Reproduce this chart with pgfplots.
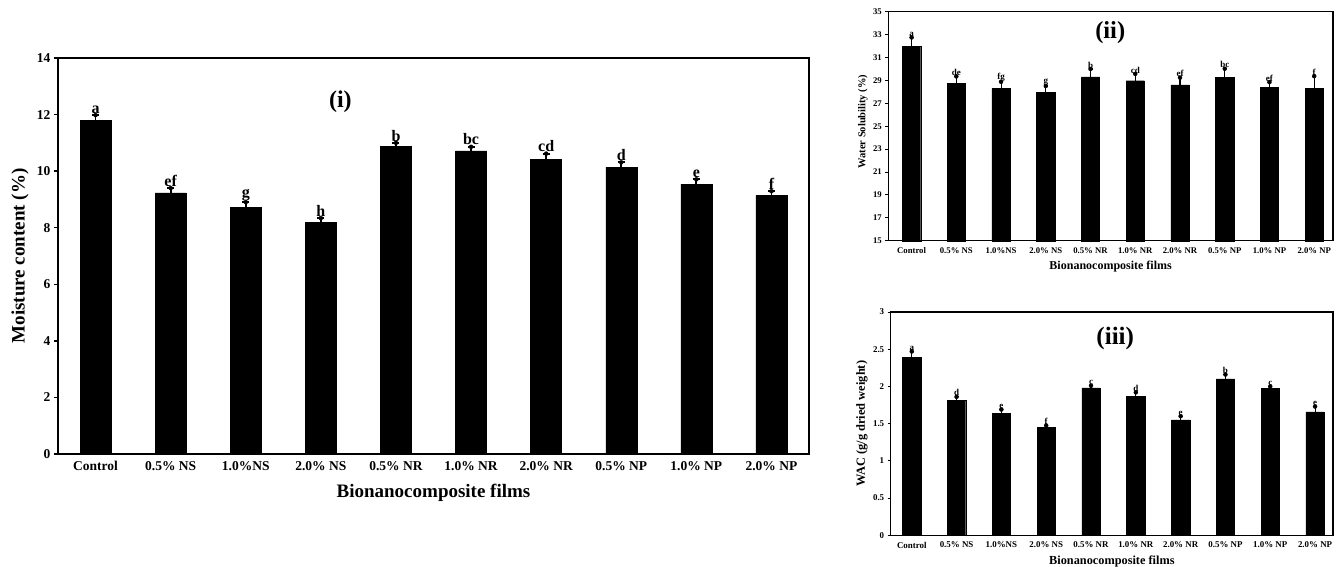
\documentclass[border=0pt]{standalone}
\usepackage{fontspec}
\setmainfont{Liberation Serif}
\usepackage{pgfplots}
\usepackage{pgfplotstable}
\pgfplotsset{compat=1.18}

\pgfplotstableread{
x y e lab
0 11.80 0.18 a
1 9.23 0.17 ef
2 8.72 0.18 g
3 8.20 0.14 h
4 10.88 0.12 b
5 10.72 0.14 bc
6 10.42 0.20 cd
7 10.14 0.17 d
8 9.54 0.17 e
9 9.14 0.15 f
}\tabA

\pgfplotstableread{
x y e lab
0 32.00 0.75 a
1 28.72 0.63 de
2 28.28 0.60 fg
3 27.96 0.55 g
4 29.30 0.70 b
5 28.97 0.60 cd
6 28.60 0.64 ef
7 29.27 0.75 bc
8 28.40 0.45 ef
9 28.32 1.05 f
}\tabB

\pgfplotstableread{
x y e lab
0 2.39 0.08 a
1 1.81 0.05 d
2 1.64 0.05 e
3 1.45 0.025 f
4 1.98 0.03 c
5 1.87 0.05 d
6 1.55 0.05 e
7 2.10 0.06 b
8 1.97 0.03 c
9 1.66 0.07 e
}\tabC

\pgfplotsset{
  common/.style={
    scale only axis, anchor=north west,
    xtick={0,...,9},
    xticklabels={Control,0.5\% NS,1.0\%NS,2.0\% NS,0.5\% NR,1.0\% NR,2.0\% NR,0.5\% NP,1.0\% NP,2.0\% NP},
    ytick pos=left, tick align=outside,
    xtick style={draw=none},
    ytick style={black},
    /pgf/number format/assume math mode=true,
    axis line style={black},
    clip=false,
  },
}

\begin{document}
\begin{tikzpicture}
\path[use as bounding box] (0pt,0pt) rectangle (1341pt,-566pt);

% ---------- (i) ----------
\begin{axis}[common,
  at={(58pt,-58pt)}, width=751pt, height=396pt,
  xmin=-0.5, xmax=9.5,
  ymin=0, ymax=14, ytick={0,2,...,14},
  axis line style={line width=2pt},
  major tick length=4pt,
  ytick style={line width=1.5pt},
  ticklabel style={font=\bfseries\fontsize{13.5}{15}\selectfont},
  xlabel={Bionanocomposite films},
  ylabel={Moisture content (\%)},
  label style={font=\bfseries\fontsize{19}{21}\selectfont},
  xlabel style={at={(axis description cs:0.5,-0.0985)}, anchor=center},
  ylabel style={at={(axis description cs:-0.0506,0.5)}, anchor=center},
]
\addplot[ybar, bar width=31pt, fill=black, draw=black,
  error bars/.cd, y dir=plus, y explicit,
  error bar style={line width=1.8pt, black},
  error mark options={rotate=90, mark size=3.5pt, line width=1.8pt, black}]
  table[x=x, y=y, y error=e]{\tabA};
\addplot[only marks, mark=*, mark options={draw=none, fill=none},
  nodes near coords, point meta=explicit symbolic,
  nodes near coords style={anchor=south, text=black, inner sep=1.5pt,
    font=\bfseries\fontsize{16}{17}\selectfont}]
  table[x=x, y expr=\thisrow{y}+\thisrow{e}, meta=lab]{\tabA};
\node[font=\bfseries\fontsize{24}{26}\selectfont] at (axis cs:3.26,12.47) {(i)};
\end{axis}

% ---------- (ii) ----------
\begin{axis}[common,
  at={(888.3pt,-11.7pt)}, width=444.7pt, height=229pt,
  xmin=-0.52, xmax=9.42,
  ymin=15, ymax=35, ytick={15,17,...,35},
  axis line style={line width=1.3pt},
  major tick length=3pt,
  ytick style={line width=1pt},
  ticklabel style={font=\bfseries\fontsize{8.7}{10}\selectfont},
  xlabel={Bionanocomposite films},
  ylabel={Water Solubility (\%)},
  xlabel style={at={(axis description cs:0.5,-0.115)}, anchor=center, font=\bfseries\fontsize{12}{13}\selectfont},
  ylabel style={at={(axis description cs:-0.057,0.52)}, anchor=center, font=\bfseries\fontsize{10.5}{12}\selectfont},
]
\addplot[ybar, bar width=18.3pt, fill=black, draw=black,
  error bars/.cd, y dir=plus, y explicit,
  error bar style={line width=1.1pt, black},
  error mark options={rotate=90, mark size=2pt, line width=1.1pt, black}]
  table[x=x, y=y, y error=e]{\tabB};
\addplot[only marks, mark=*, mark options={draw=none, fill=none},
  nodes near coords, point meta=explicit symbolic,
  nodes near coords style={anchor=south, text=black, inner sep=0.5pt,
    font=\bfseries\fontsize{9}{10}\selectfont}]
  table[x=x, y expr=\thisrow{y}+\thisrow{e}, meta=lab]{\tabB};
\node[font=\bfseries\fontsize{24.5}{26}\selectfont] at (axis cs:4.44,33.14) {(ii)};
\end{axis}

% ---------- (iii) ----------
\begin{axis}[common,
  at={(890.7pt,-312pt)}, width=442.3pt, height=223.3pt,
  xmin=-0.47, xmax=9.4,
  ymin=0, ymax=3, ytick={0,0.5,...,3},
  yticklabel style={/pgf/number format/fixed},
  axis line style={line width=1.3pt},
  major tick length=3pt,
  ytick style={line width=1pt},
  ticklabel style={font=\bfseries\fontsize{8.9}{10}\selectfont},
  xlabel={Bionanocomposite films},
  ylabel={WAC (g/g dried weight)},
  xlabel style={at={(axis description cs:0.5,-0.115)}, anchor=center, font=\bfseries\fontsize{12.3}{13}\selectfont},
  ylabel style={at={(axis description cs:-0.065,0.5)}, anchor=center, font=\bfseries\fontsize{12.4}{13}\selectfont},
]
\addplot[ybar, bar width=18.3pt, fill=black, draw=black,
  error bars/.cd, y dir=plus, y explicit,
  error bar style={line width=1.1pt, black},
  error mark options={rotate=90, mark size=2pt, line width=1.1pt, black}]
  table[x=x, y=y, y error=e]{\tabC};
\addplot[only marks, mark=*, mark options={draw=none, fill=none},
  nodes near coords, point meta=explicit symbolic,
  nodes near coords style={anchor=south, text=black, inner sep=0.8pt,
    font=\bfseries\fontsize{9}{10}\selectfont}]
  table[x=x, y expr=\thisrow{y}+\thisrow{e}, meta=lab]{\tabC};
\node[font=\bfseries\fontsize{25}{27}\selectfont] at (axis cs:4.54,2.65) {(iii)};
\end{axis}
\end{tikzpicture}
\end{document}
